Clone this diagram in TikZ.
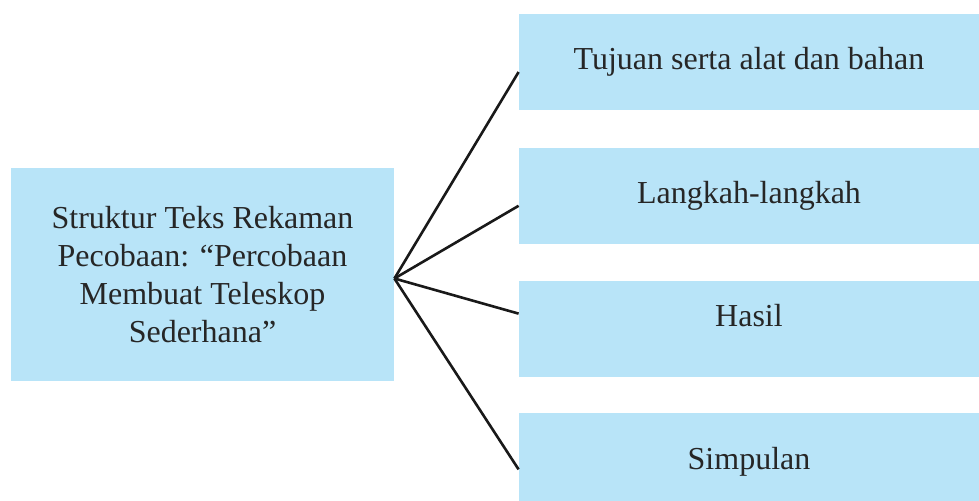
\documentclass[tikz,border=0pt]{standalone}
\usepackage{fontspec}
\setmainfont{Liberation Serif}
\usetikzlibrary{positioning}
\definecolor{boxblue}{RGB}{184,228,248}
\tikzset{
	every node/.style={
		align=center,
	},
	box/.style={fill=boxblue, inner sep=0pt, text=black!85, font=\fontsize{16}{19}\selectfont},
	part/.style={box, minimum width=230pt, minimum height=48pt},
	link/.style={line width=1.3pt, black!90},
}

\begin{document}
\begin{tikzpicture}[x=0.5pt, y=-0.5pt]
    \useasboundingbox (0,0) rectangle (979,500);

    \node (st) [box, minimum width=191.5pt, minimum height=106.5pt] at (202.5,274.5) {Struktur Teks Rekaman\\Pecobaan: “Percobaan\\Membuat Teleskop\\Sederhana”};

    \node (tu) [part] at (749,62) {Tujuan serta alat dan bahan};
    \node (la) [part, below=18.5pt of tu] {Langkah-langkah};
    \node (ha) [part, text depth=13pt, below=18pt of la] {Hasil};
    \node (si) [part, below=18pt of ha] {Simpulan};

    \coordinate (hub) at ([yshift=-2pt]st.east);

    \draw [link] (hub) -- ([yshift=-5pt]tu.west);
    \draw [link] (hub) -- ([yshift=-5pt]la.west);
    \draw [link] (hub) -- ([yshift=7.5pt]ha.west);
    \draw [link] (hub) -- ([yshift=-4pt]si.west);

\end{tikzpicture}
\end{document}
